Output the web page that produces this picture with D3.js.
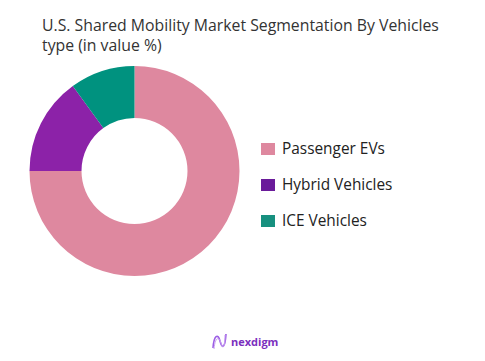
<!DOCTYPE html>
<html>
<head>
<meta charset="utf-8">
<title>U.S. Shared Mobility Market Segmentation</title>
<script src="https://cdn.jsdelivr.net/npm/d3@7"></script>
<style>
  body { margin: 0; background: #fff; }
  text { font-family: "Open Sans", "DejaVu Sans", sans-serif; }
</style>
</head>
<body>
<div id="chart"></div>
<script>
// data
var categories = ["Passenger EVs", "Hybrid Vehicles", "ICE Vehicles"];
var shares = [75, 15, 10];
var sliceColors = ["#de889f", "#8c22a8", "#00927f"];
var legendColors = ["#de889f", "#6a1b9a", "#17907f"];
var titleLines = ["U.S. Shared Mobility Market Segmentation By Vehicles", "type (in value %)"];

var width = 485, height = 361;
var svg = d3.select("#chart").append("svg")
    .attr("width", width)
    .attr("height", height);

// title
svg.selectAll("text.title")
    .data(titleLines)
    .enter()
    .append("text")
    .attr("class", "title")
    .attr("x", 42)
    .attr("y", function (d, i) { return 31 + i * 20; })
    .style("font-size", "15.8px")
    .style("fill", "#333")
    .text(function (d) { return d; });

// donut
var data = categories.map(function (c, i) { return { name: c, value: shares[i], i: i }; });
var pie = d3.pie().sort(null).value(function (d) { return d.value; });
var arc = d3.arc().innerRadius(53).outerRadius(105);

var g = svg.append("g").attr("transform", "translate(134.5,171)");
g.selectAll("path")
    .data(pie(data))
    .enter()
    .append("path")
    .attr("d", arc)
    .attr("fill", function (d) { return sliceColors[d.data.i]; });

// legend
var legend = svg.selectAll("g.legend")
    .data(categories)
    .enter()
    .append("g")
    .attr("class", "legend")
    .attr("transform", function (d, i) { return "translate(261," + (149 + i * 36) + ")"; });

legend.append("rect")
    .attr("x", 0)
    .attr("y", -6)
    .attr("width", 14)
    .attr("height", 12)
    .attr("fill", function (d, i) { return legendColors[i]; });

legend.append("text")
    .attr("x", 21)
    .attr("y", 0)
    .attr("dy", "0.35em")
    .style("font-size", "15.4px")
    .style("fill", "#222")
    .text(function (d) { return d; });

// logo
var logo = svg.append("g").attr("transform", "translate(212,333)");
logo.append("path")
    .attr("d", "M1,15 C2,2 6,0 8,8 C10,16 13,16 14,1")
    .attr("fill", "none")
    .attr("stroke", "#9b5de5")
    .attr("stroke-width", 1.6);
logo.append("path")
    .attr("d", "M2,16 C3,4 7,3 9,10 C11,17 13,14 13,2")
    .attr("fill", "none")
    .attr("stroke", "#c9a0f0")
    .attr("stroke-width", 1);
logo.append("text")
    .attr("x", 19)
    .attr("y", 12.5)
    .style("font-size", "11px")
    .style("font-weight", "bold")
    .style("fill", "#7b2fbe")
    .text("nexdigm");
</script>
</body>
</html>
